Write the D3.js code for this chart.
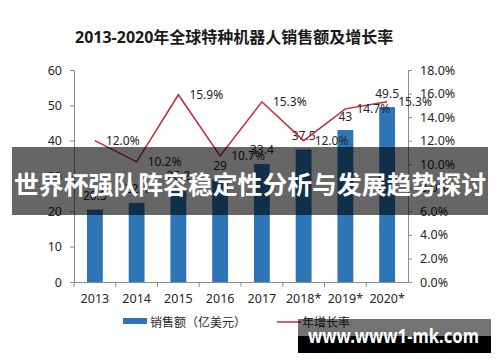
<!DOCTYPE html>
<html>
<head>
<meta charset="utf-8">
<script src="https://cdn.jsdelivr.net/npm/d3@7"></script>
<style>
  html, body { margin: 0; padding: 0; background: #fff; }
  svg { display: block; }
  text { font-family: "Noto Sans", "Noto Sans CJK SC", sans-serif; }
</style>
</head>
<body>
<svg id="chart" width="500" height="362"></svg>
<script>
const categories = ["2013", "2014", "2015", "2016", "2017", "2018*", "2019*", "2020*"];
const salesValues = [20.5, 22.4, 26.2, 29, 33.4, 37.5, 43, 49.5];
const growthValues = [12.0, 10.2, 15.9, 10.7, 15.3, 12.0, 14.7, 15.3];
const leftTicks = [0, 10, 20, 30, 40, 50, 60];
const rightTicks = [0, 2, 4, 6, 8, 10, 12, 14, 16, 18];
const title = "2013-2020年全球特种机器人销售额及增长率";
const legendLabels = ["销售额（亿美元）", "年增长率"];
const bannerText = "世界杯强队阵容稳定性分析与发展趋势探讨";
const watermarkText = "www.www1-mk.com";

const svg = d3.select("#chart");
const m = { left: 74, right: 408, top: 70, bottom: 282 };
const barColor = "#2e75b6";
const lineColor = "#c8283c";
const axisColor = "#8c8c8c";
const textColor = "#262626";
const cjk = "'Noto Sans CJK SC', 'Noto Sans', sans-serif";

const x = d3.scaleBand().domain(categories).range([m.left, m.right]).paddingInner(0.62).paddingOuter(0.31);
const xb = d3.scaleBand().domain(categories).range([m.left, m.right]);
const yL = d3.scaleLinear().domain([0, 60]).range([m.bottom, m.top]);
const yR = d3.scaleLinear().domain([0, 18]).range([m.bottom, m.top]);

// Title
svg.append("text").attr("x", 75).attr("y", 43)
  .attr("font-family", cjk).attr("font-weight", "bold").attr("font-size", 16)
  .attr("fill", "#1a1a1a").text(title);

// Bars
svg.append("g").selectAll("rect").data(salesValues).join("rect")
  .attr("x", (d, i) => x(categories[i]))
  .attr("width", x.bandwidth())
  .attr("y", d => yL(d))
  .attr("height", d => yL(0) - yL(d))
  .attr("fill", barColor);

// Left axis
const gL = svg.append("g").attr("transform", `translate(${m.left},0)`)
  .call(d3.axisLeft(yL).tickValues(leftTicks).tickSize(4).tickPadding(8).tickFormat(d3.format("d")));
// Right axis
const gR = svg.append("g").attr("transform", `translate(${m.right},0)`)
  .call(d3.axisRight(yR).tickValues(rightTicks).tickSize(4).tickPadding(8).tickFormat(d => d.toFixed(1) + "%"));
// X axis
const gX = svg.append("g").attr("transform", `translate(0,${m.bottom})`)
  .call(d3.axisBottom(xb).tickSize(0).tickPadding(12));
// x tick marks at band boundaries
svg.append("g").selectAll("line").data(categories).join("line")
  .attr("x1", d => xb(d)).attr("x2", d => xb(d))
  .attr("y1", m.bottom).attr("y2", m.bottom + 5)
  .attr("stroke", axisColor);

[gL, gR, gX].forEach(g => {
  g.select(".domain").attr("stroke", axisColor);
  g.selectAll(".tick line").attr("stroke", axisColor);
  g.selectAll(".tick text").attr("fill", textColor).attr("font-size", 12.5)
    .attr("font-family", "'Noto Sans', sans-serif");
});
gX.select(".domain").attr("d", `M${m.left},0.5H${m.right}`);

// Bar value labels
svg.append("g").selectAll("text").data(salesValues).join("text")
  .attr("x", (d, i) => xb(categories[i]) + xb.bandwidth() / 2)
  .attr("y", d => yL(d) - 14)
  .attr("text-anchor", "middle").attr("dominant-baseline", "central")
  .attr("font-size", 12).attr("fill", textColor)
  .text(d => String(d));

// Growth line
const line = d3.line()
  .x((d, i) => xb(categories[i]) + xb.bandwidth() / 2)
  .y(d => yR(d));
svg.append("path").datum(growthValues)
  .attr("d", line).attr("fill", "none")
  .attr("stroke", lineColor).attr("stroke-width", 1.5);

// Growth labels
svg.append("g").selectAll("text").data(growthValues).join("text")
  .attr("x", (d, i) => xb(categories[i]) + xb.bandwidth() / 2 + 11)
  .attr("y", d => yR(d))
  .attr("dominant-baseline", "central")
  .attr("font-size", 12).attr("fill", textColor)
  .text(d => d.toFixed(1) + "%");

// Legend
const lg = svg.append("g");
lg.append("rect").attr("x", 123).attr("y", 318).attr("width", 24).attr("height", 6).attr("fill", barColor);
lg.append("text").attr("x", 150).attr("y", 322).attr("dominant-baseline", "central")
  .attr("font-family", cjk).attr("font-size", 12).attr("fill", textColor).text(legendLabels[0]);
lg.append("line").attr("x1", 277).attr("x2", 301).attr("y1", 322).attr("y2", 322)
  .attr("stroke", lineColor).attr("stroke-width", 1.5);
lg.append("text").attr("x", 302).attr("y", 322).attr("dominant-baseline", "central")
  .attr("font-family", cjk).attr("font-size", 12).attr("fill", textColor).text(legendLabels[1]);

// Banner overlay
svg.append("rect").attr("x", 12).attr("y", 147).attr("width", 476).attr("height", 68)
  .attr("fill", "#000").attr("fill-opacity", 0.6);
svg.append("text").attr("x", 250).attr("y", 184)
  .attr("text-anchor", "middle").attr("dominant-baseline", "central")
  .attr("font-family", cjk).attr("font-weight", "bold").attr("font-size", 25)
  .attr("textLength", 472).attr("lengthAdjust", "spacingAndGlyphs")
  .attr("fill", "#fff").text(bannerText);

// Watermark
svg.append("rect").attr("x", 298).attr("y", 319).attr("width", 193).attr("height", 17)
  .attr("fill", "#000").attr("fill-opacity", 0.55);
svg.append("rect").attr("x", 298).attr("y", 336).attr("width", 193).attr("height", 17)
  .attr("fill", "#000");
svg.append("text").attr("x", 308).attr("y", 343)
  .attr("font-family", "'Open Sans', 'Noto Sans', sans-serif").attr("font-weight", "bold").attr("font-size", 20)
  .attr("textLength", 171).attr("lengthAdjust", "spacingAndGlyphs")
  .attr("fill", "#fff").text(watermarkText);
</script>
</body>
</html>
